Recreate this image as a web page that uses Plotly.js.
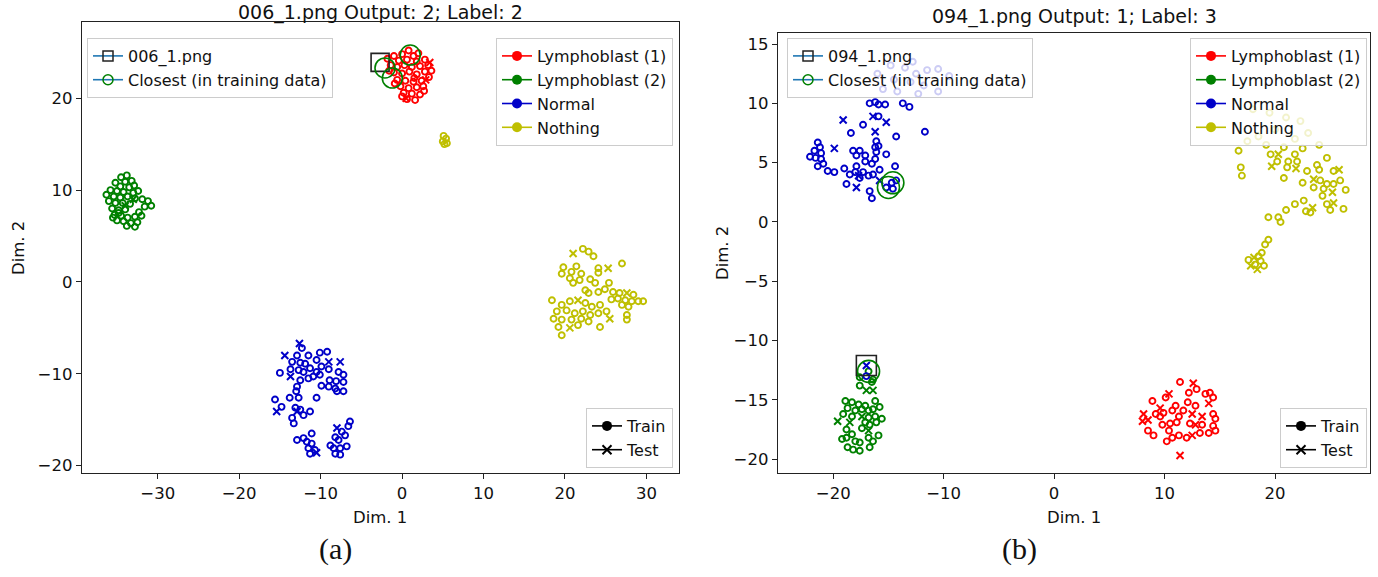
<!DOCTYPE html>
<html><head><meta charset="utf-8">
<script src="https://cdn.plot.ly/plotly-3.0.1.min.js"></script>
<style>html,body{margin:0;padding:0;background:#fff}#chart{width:1378px;height:577px}</style>
</head><body><div id="chart"></div><script>
// ---------- titles / labels ----------
const TITLE_A = "006_1.png Output: 2; Label: 2";
const TITLE_B = "094_1.png Output: 1; Label: 3";
const CLASS_NAMES = ["Lymphoblast (1)", "Lymphoblast (2)", "Normal", "Nothing"];
const SPLIT_NAMES = ["Train", "Test"];
const QUERY_A = "006_1.png", QUERY_B = "094_1.png", CLOSEST_NAME = "Closest (in training data)";
const TICKS_AX = [-30,-20,-10,0,10,20,30], TICKS_AY = [-20,-10,0,10,20];
const TICKS_BX = [-20,-10,0,10,20], TICKS_BY = [-20,-15,-10,-5,0,5,10,15];

// ---------- panel (a) data ----------
const A_RED_TRAIN = [[-1.8,24.3],[-1.0,24.6],[0.0,24.8],[0.8,25.2],[1.4,24.6],[2.0,24.9],[-0.4,24.1],[0.6,24.2],[1.8,24.0],[2.8,24.2],
[-1.4,23.6],[-0.6,23.4],[0.3,23.6],[1.2,23.4],[2.2,23.5],[3.2,23.6],[3.6,23.0],[-1.0,22.8],[0.0,22.7],[0.9,22.9],
[1.8,22.6],[2.8,22.9],[3.3,22.3],[-0.6,22.0],[0.4,21.9],[1.4,21.8],[2.4,21.9],[-0.2,21.3],[0.8,21.1],[1.8,21.2],
[2.6,21.3],[0.2,20.6],[1.2,20.5],[2.2,20.4],[0.6,19.9],[1.6,19.8],[0.0,20.2],[-1.6,23.0],[-0.9,21.6],[1.5,22.2],[2.7,20.8]];
const A_RED_TEST = [[2.9,22.0],[0.5,20.0],[3.4,23.9]];
const A_GREEN_TRAIN = [[-34.5,11.4],[-33.8,11.6],[-34.0,10.9],[-33.2,11.0],[-35.2,10.8],[-34.6,10.4],[-33.5,10.3],[-32.9,10.5],[-35.8,10.0],[-35.0,9.9],
[-34.2,9.8],[-33.0,9.7],[-32.4,9.9],[-36.3,9.5],[-35.4,9.3],[-34.6,9.2],[-33.7,9.3],[-32.8,9.1],[-31.9,9.0],[-31.2,8.8],
[-30.8,8.3],[-31.6,8.2],[-36.0,8.8],[-35.2,8.6],[-34.3,8.6],[-33.4,8.5],[-35.6,8.0],[-34.8,7.8],[-34.0,7.9],[-32.3,7.6],
[-35.3,7.3],[-34.5,7.2],[-33.7,7.0],[-32.8,7.1],[-35.0,6.7],[-34.2,6.6],[-33.3,6.4],[-32.5,6.5],[-33.8,6.1],[-32.8,6.0],
[-34.8,7.5],[-35.5,7.0],[-32.0,7.2]];
const A_GREEN_TEST = [[-34.0,8.3],[-33.0,9.0]];
const A_BLUE_TRAIN = [[-12.3,-7.2],[-12.9,-8.0],[-11.5,-8.0],[-10.1,-7.7],[-9.2,-7.6],[-13.5,-8.7],[-12.5,-8.8],[-11.9,-8.9],[-10.5,-8.5],
[-15.0,-9.9],[-13.7,-9.5],[-12.7,-9.6],[-12.1,-9.8],[-11.3,-9.4],[-10.5,-9.8],[-9.9,-9.2],[-9.0,-9.5],[-7.8,-9.8],[-7.2,-10.1],
[-12.5,-10.7],[-11.5,-10.5],[-10.9,-10.3],[-10.1,-10.1],[-8.9,-10.7],[-8.1,-10.8],[-7.2,-10.9],[-12.9,-11.4],[-9.9,-11.3],[-9.0,-11.4],
[-8.2,-11.6],[-8.0,-11.9],[-7.2,-11.9],[-13.0,-11.9],[-13.8,-12.6],[-12.7,-12.6],[-10.5,-12.6],[-15.6,-12.8],[-14.8,-13.6],[-13.1,-13.7],
[-12.5,-13.9],[-12.1,-14.5],[-11.3,-14.1],[-13.5,-14.8],[-13.3,-15.4],[-6.4,-15.2],[-6.6,-15.7],[-7.4,-16.3],[-11.1,-16.5],[-7.0,-16.7],
[-8.2,-16.9],[-7.8,-17.2],[-12.9,-17.2],[-12.1,-17.0],[-11.7,-17.4],[-11.1,-17.6],[-6.8,-17.9],[-7.6,-18.1],[-8.4,-18.1],[-8.8,-17.8],
[-11.5,-18.1],[-10.7,-18.3],[-11.3,-18.7],[-8.2,-18.7],[-7.6,-18.8]];
const A_BLUE_TEST = [[-12.6,-6.7],[-14.4,-8.0],[-9.0,-8.7],[-7.6,-8.7],[-13.7,-10.3],[-15.4,-14.1],[-12.9,-14.1],[-8.0,-15.9],[-10.5,-18.6]];
const A_YELLOW_TRAIN = [[22.2,3.6],[22.9,3.3],[23.5,2.8],[27.0,2.0],[19.8,1.6],[21.4,1.7],[24.1,1.5],[19.6,0.9],[20.8,1.1],[22.0,0.9],
[24.1,1.0],[20.6,0.4],[21.8,0.2],[23.1,0.3],[23.7,-0.1],[21.0,-0.1],[25.4,-0.1],[22.5,-0.9],[22.9,-1.2],[24.1,-1.1],
[24.9,-0.8],[25.9,-1.1],[26.7,-1.2],[28.4,-1.4],[26.5,-1.8],[27.4,-2.0],[28.2,-2.1],[29.0,-2.1],[29.6,-2.1],[25.7,-1.9],
[27.0,-2.5],[27.8,-2.7],[18.4,-2.0],[19.6,-2.5],[20.6,-2.1],[22.5,-2.3],[23.3,-2.7],[24.3,-2.5],[25.1,-3.2],[19.0,-3.2],
[20.2,-3.1],[21.2,-3.4],[22.2,-3.2],[23.1,-3.6],[24.1,-3.4],[18.6,-4.0],[19.6,-4.1],[20.8,-4.1],[22.0,-4.0],[22.9,-4.3],
[27.6,-3.6],[27.6,-4.1],[19.2,-4.9],[21.6,-4.7],[24.3,-4.9],[19.6,-5.8],[5.1,15.9],[5.4,15.6],[5.0,15.3],[5.5,15.1],[5.2,15.0]];
const A_YELLOW_TEST = [[21.0,3.1],[25.3,1.5],[21.6,-2.0],[20.6,-5.0],[25.5,-4.0],[27.6,-1.2]];
const A_QUERY = [[-2.7,23.9]];
const A_CLOSEST = [[1.0,24.7],[-2.1,23.3],[-1.2,22.2]];

// ---------- panel (b) data ----------
const B_BLUE_TRAIN = [[-16.7,10.0],[-16.2,10.1],[-15.9,9.9],[-15.3,9.9],[-13.7,10.0],[-13.1,9.7],[-15.9,8.9],[-17.3,8.2],[-18.4,7.5],[-11.7,7.6],
[-14.3,7.2],[-16.1,6.8],[-21.4,6.7],[-21.2,6.3],[-16.2,6.3],[-15.9,6.4],[-18.2,6.0],[-17.6,6.0],[-16.1,5.9],[-21.7,6.0],
[-21.1,5.8],[-17.9,5.6],[-17.1,5.6],[-15.2,5.7],[-22.1,5.5],[-21.6,5.4],[-21.1,5.3],[-17.1,5.1],[-16.2,5.3],[-21.4,4.7],
[-20.9,4.9],[-17.9,4.7],[-16.5,4.9],[-14.4,4.7],[-20.5,4.3],[-19.9,4.2],[-19.0,4.5],[-18.5,4.0],[-18.0,4.2],[-17.6,3.7],
[-17.3,4.2],[-16.8,3.9],[-16.4,4.0],[-15.8,4.4],[-18.8,3.2],[-16.7,2.6],[-16.5,2.0],[-15.2,2.9],[-14.6,2.8],[-14.7,3.3],
[-14.3,3.5],[-17.0,-13.0],
[-13.5,13.0],[-12.5,12.5],[-11.5,12.8],[-10.5,12.9],[-14.5,12.0],[-13.0,11.8],[-11.8,11.5],[-15.5,11.2],[-14.2,11.0],[-12.3,10.8],
[-10.5,11.0],[-16.0,12.5],[-9.5,12.3],[-12.8,13.5],[-14.8,13.2]];
const B_BLUE_TEST = [[-16.4,8.9],[-19.1,8.6],[-15.2,8.4],[-16.2,7.6],[-19.9,6.2],[-17.7,3.9],[-15.8,3.5],[-17.9,2.9],[-17.0,-12.1]];
const B_GREEN_TRAIN = [[-16.8,-12.6],[-16.4,-13.3],[-16.5,-13.5],[-17.6,-13.8],[-17.6,-13.1],[-16.2,-15.1],[-18.9,-15.1],[-18.3,-15.2],[-17.7,-15.4],[-17.1,-15.5],
[-18.7,-15.7],[-18.0,-15.9],[-17.4,-15.8],[-16.8,-15.9],[-16.4,-15.8],[-15.8,-15.6],[-19.1,-16.2],[-18.3,-16.4],[-16.8,-16.5],[-16.2,-16.4],
[-15.6,-16.6],[-17.1,-16.9],[-16.7,-17.1],[-16.1,-16.9],[-18.8,-17.5],[-17.4,-17.4],[-15.9,-18.0],[-18.3,-17.9],[-19.2,-18.3],[-18.8,-18.2],
[-16.8,-18.2],[-16.4,-18.5],[-18.0,-18.5],[-17.6,-18.6],[-18.7,-19.0],[-18.2,-19.2],[-17.6,-19.3],[-16.7,-19.0]];
const B_GREEN_TEST = [[-17.0,-14.2],[-17.4,-16.4],[-19.6,-16.8],[-18.5,-16.9],[-16.8,-17.6],[-16.4,-14.2]];
const B_RED_TRAIN = [[11.4,-13.5],[12.9,-14.1],[13.7,-14.5],[14.1,-14.4],[14.4,-14.8],[12.2,-14.4],[10.1,-14.8],[8.9,-15.1],[12.1,-15.2],[11.0,-15.5],
[11.7,-15.9],[12.8,-15.5],[10.7,-15.9],[9.9,-16.1],[9.2,-16.2],[9.6,-16.4],[11.3,-16.4],[14.4,-16.2],[14.6,-16.6],[9.8,-17.1],
[10.5,-17.0],[11.1,-16.9],[12.3,-17.0],[13.4,-17.1],[14.4,-17.2],[8.5,-17.6],[10.4,-17.6],[11.3,-18.0],[12.0,-18.2],[13.2,-17.8],
[14.0,-17.8],[14.6,-17.6],[9.0,-18.0],[10.2,-18.5],[10.7,-18.2]];
const B_RED_TEST = [[12.6,-13.6],[14.0,-15.3],[10.4,-14.5],[9.6,-15.7],[8.1,-16.2],[12.5,-16.2],[13.4,-16.4],[8.5,-16.7],[8.0,-16.8],[12.8,-17.1],[12.5,-18.0],[11.4,-19.7]];
const B_YELLOW_TRAIN = [[16.7,6.0],[19.6,5.7],[21.8,5.7],[24.7,5.4],[20.2,5.1],[21.2,5.1],[22.0,5.1],[21.1,4.6],[23.8,4.8],[16.9,4.6],
[17.0,3.9],[22.9,4.3],[24.0,4.4],[25.3,4.3],[25.9,3.5],[20.8,3.7],[24.1,3.5],[24.7,3.2],[25.3,3.2],[22.5,3.3],
[23.5,2.9],[24.4,2.8],[26.4,2.7],[24.3,2.2],[22.6,1.8],[21.8,1.5],[24.7,1.5],[26.2,1.1],[22.8,0.9],[23.2,0.8],
[25.0,1.0],[21.0,1.0],[19.4,0.4],[20.3,0.4],[20.5,0.0],[19.4,-1.5],[19.1,-1.9],[18.8,-2.6],[18.5,-2.9],[17.6,-3.2],
[18.7,-3.3],[18.2,-3.6],[19.0,-3.7],
[18.0,9.5],[19.5,9.2],[21.0,8.8],[22.3,8.5],[20.0,7.8],[18.5,7.2],[21.8,7.0],[23.0,7.5],[17.5,6.8],[19.2,6.5],[20.8,6.3],[22.5,6.2],[24.0,6.5]];
const B_YELLOW_TEST = [[20.3,5.7],[19.7,4.7],[21.9,4.5],[25.8,4.4],[23.5,3.6],[25.2,2.5],[25.3,1.6],[23.4,1.2],[18.1,-3.0],[17.8,-3.7],[18.4,-4.0]];
const B_QUERY = [[-17.0,-12.1]];
const B_CLOSEST = [[-14.6,3.3],[-15.0,2.9],[-16.8,-12.6]];

// ---------- styling ----------
const RED = "#ff0000", GREEN = "#008000", BLUE = "#0000c8", YELLOW = "#bfbf00", C0 = "#1f77b4";
const FONT = "DejaVu Sans";
const W = 1378, H = 577;
const px = v => v / W, py = v => 1 - v / H;

function pts(arr, xa, ya, color, symbol, size, lw) {
  return { type: "scatter", mode: "markers", x: arr.map(p => p[0]), y: arr.map(p => p[1]),
    xaxis: xa, yaxis: ya, showlegend: false, hoverinfo: "skip",
    marker: { symbol: symbol, size: size, color: color, line: { color: color, width: lw } } };
}
function panel(xa, ya, sets) {
  const tr = [];
  sets.forEach(s => {
    tr.push(pts(s[0], xa, ya, s[2], "circle-open", 6, 1.9));
    tr.push(pts(s[1], xa, ya, s[2], "x-thin-open", 7, 2));
  });
  return tr;
}
const traces = [];
traces.push(...panel("x", "y", [[A_RED_TRAIN, A_RED_TEST, RED], [A_GREEN_TRAIN, A_GREEN_TEST, GREEN], [A_BLUE_TRAIN, A_BLUE_TEST, BLUE], [A_YELLOW_TRAIN, A_YELLOW_TEST, YELLOW]]));
traces.push(...panel("x2", "y2", [[B_RED_TRAIN, B_RED_TEST, RED], [B_GREEN_TRAIN, B_GREEN_TEST, GREEN], [B_BLUE_TRAIN, B_BLUE_TEST, BLUE], [B_YELLOW_TRAIN, B_YELLOW_TEST, YELLOW]]));
traces.push(pts(A_QUERY, "x", "y", "#222", "square-open", 18, 1.6));
traces.push(pts(A_CLOSEST, "x", "y", GREEN, "circle-open", 20, 1.6));
traces.push(pts(B_QUERY, "x2", "y2", "#222", "square-open", 20, 1.6));
traces.push(pts(B_CLOSEST, "x2", "y2", GREEN, "circle-open", 22, 1.6));

// legend handles
function handle(name, legend, lineColor, symbol, mColor, size, lw, xa, ya) {
  return { type: "scatter", mode: "lines+markers", x: [null], y: [null], xaxis: xa, yaxis: ya,
    name: name, legend: legend, showlegend: true,
    line: { color: lineColor, width: 1.6 },
    marker: { symbol: symbol, size: size, color: mColor, line: { color: mColor, width: lw } } };
}
[["x","y",QUERY_A,"legend","legend2","legend3"],["x2","y2",QUERY_B,"legend4","legend5","legend6"]].forEach(c => {
  const [xa, ya, q, l1, l2, l3] = c;
  traces.push(handle(q, l1, C0, "square-open", "#222", 10, 1.5, xa, ya));
  traces.push(handle(CLOSEST_NAME, l1, C0, "circle-open", GREEN, 10, 1.5, xa, ya));
  [RED, GREEN, BLUE, YELLOW].forEach((col, i) => traces.push(handle(CLASS_NAMES[i], l2, col, "circle", col, 10, 0, xa, ya)));
  traces.push(handle(SPLIT_NAMES[0], l3, "#000", "circle", "#000", 10, 0, xa, ya));
  traces.push(handle(SPLIT_NAMES[1], l3, "#000", "x-thin-open", "#000", 9, 2, xa, ya));
});

function leg(x, y, xanchor, yanchor) {
  return { x: x, y: y, xanchor: xanchor, yanchor: yanchor, bgcolor: "rgba(255,255,255,0.8)",
    bordercolor: "#cccccc", borderwidth: 1, font: { family: FONT, size: 16, color: "#111" },
    tracegroupgap: 0, itemclick: false };
}
function axis(range, ticks, domain, anchor) {
  return { range: range, tickvals: ticks, domain: domain, anchor: anchor, showgrid: false, zeroline: false,
    showline: true, mirror: true, linecolor: "#222", linewidth: 1.3, ticks: "outside", ticklen: 5,
    tickcolor: "#222", tickfont: { family: FONT, size: 16.5, color: "#111" } };
}
const ann = (text, x, y, size, extra) => Object.assign({ text: text, x: px(x), y: py(y), xref: "paper", yref: "paper",
  showarrow: false, xanchor: "center", yanchor: "middle", font: { family: FONT, size: size, color: "#111" } }, extra || {});

const layout = {
  width: W, height: H, margin: { l: 0, r: 0, t: 0, b: 0 }, paper_bgcolor: "#fff", plot_bgcolor: "#fff",
  xaxis: axis([-39.3, 34.0], TICKS_AX, [px(82), px(679)], "y"),
  yaxis: axis([-20.8, 28.3], TICKS_AY, [1 - 473 / H, 1 - 22 / H], "x"),
  xaxis2: axis([-25.0, 28.6], TICKS_BX, [px(778), px(1370)], "y2"),
  yaxis2: axis([-21.17, 15.93], TICKS_BY, [1 - 473 / H, 1 - 33 / H], "x2"),
  legend: leg(px(87), py(38), "left", "top"),
  legend2: leg(px(673), py(38), "right", "top"),
  legend3: leg(px(673), py(468), "right", "bottom"),
  legend4: leg(px(787), py(38), "left", "top"),
  legend5: leg(px(1367), py(38), "right", "top"),
  legend6: leg(px(1367), py(468), "right", "bottom"),
  annotations: [
    ann(TITLE_A, 380, 12, 19), ann(TITLE_B, 1074, 17, 19),
    ann("Dim. 1", 380, 517, 16.5), ann("Dim. 1", 1074, 517, 16.5),
    ann("Dim. 2", 19, 248, 16.5, { textangle: -90 }), ann("Dim. 2", 722, 253, 16.5, { textangle: -90 }),
    ann("(a)", 335, 549, 30, { font: { family: "Liberation Serif", size: 30, color: "#111" } }),
    ann("(b)", 1019, 549, 30, { font: { family: "Liberation Serif", size: 30, color: "#111" } })
  ]
};
Plotly.newPlot("chart", traces, layout, { displayModeBar: false, staticPlot: true });
</script></body></html>
